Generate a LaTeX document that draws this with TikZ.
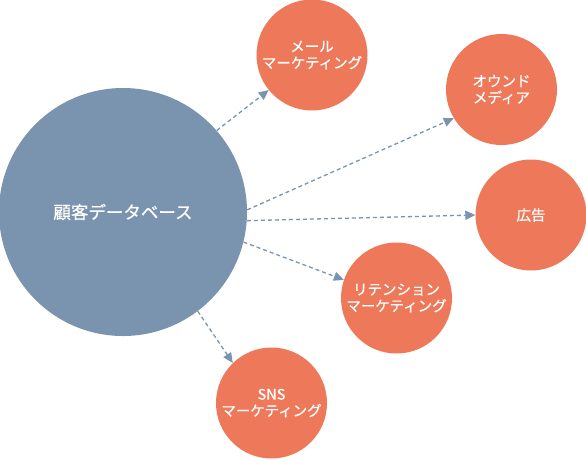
\documentclass[tikz,border=0pt]{standalone}
\usepackage{fontspec}
\newfontfamily\jp{Noto Sans CJK JP}[FakeBold=0.6]
\usetikzlibrary{arrows.meta}
\definecolor{dbblue}{RGB}{122,148,176}
\definecolor{chanorange}{RGB}{238,120,90}
\begin{document}
\begin{tikzpicture}[x=1pt,y=-1pt,
  dbcircle/.style={circle,fill=dbblue,draw=none,minimum size=248pt,inner sep=0pt,text=white,font=\jp\fontsize{17.5}{20}\selectfont},
  chancircle/.style={circle,fill=chanorange,draw=none,minimum size=111pt,inner sep=0pt,text=white,align=center,font=\jp\fontsize{14.5}{16.5}\selectfont},
  flow/.style={draw=dbblue,line width=1.3pt,dash pattern=on 4pt off 3pt,-{Triangle[length=10pt,width=9pt]}}]
\useasboundingbox (0,0) rectangle (586,459);
\node[dbcircle] (db) at (123,212) {顧客データベース};
\node[chancircle] (mail) at (312,55) {メール\\マーケティング};
\node[chancircle] (own) at (501.5,89.5) {オウンド\\メディア};
\node[chancircle] (ad) at (531,215) {広告};
\node[chancircle] (ret) at (396.5,298) {リテンション\\マーケティング};
\node[chancircle] (sns) at (271.5,403) {SNS\\マーケティング};
\draw[flow] (db.41) -- (mail.219);
\draw[flow] (db.1) -- (own.211);
\draw[flow] (db.-4.6) -- (ad.180);
\draw[flow] (db.-14.8) -- (ret.161);
\draw[flow] (db.-53.5) -- (sns.134);
\end{tikzpicture}
\end{document}
